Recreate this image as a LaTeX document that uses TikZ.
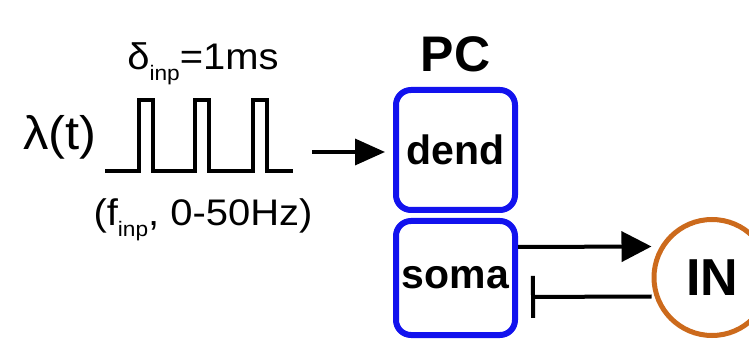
\documentclass[tikz,border=0pt]{standalone}
\usepackage{fontspec}
\setmainfont{Liberation Sans}
\newfontfamily\widesans[FakeStretch=1.08]{Liberation Sans}
\usetikzlibrary{positioning, arrows.meta}
\definecolor{pcblue}{HTML}{1212EE}
\definecolor{inorange}{HTML}{CC6A1C}
\newcommand{\subtxt}[1]{\raisebox{-11pt}{\fontsize{21}{21}\selectfont #1}}

\begin{document}
\begin{tikzpicture}[
    x=1pt, y=-1pt,
    comp/.style={
        draw=pcblue, rounded corners=15pt, line width=6pt,
        minimum width=119pt, font=\bfseries\fontsize{41}{44}\selectfont
    },
    cell/.style={
        draw=inorange, circle, line width=5pt, minimum size=116pt,
        font=\bfseries\fontsize{52}{56}\selectfont
    },
    lbl/.style={
        inner sep=0pt, anchor=base, font=\widesans\fontsize{#1}{#1}\selectfont
    },
    pulse/.style={
        line width=3.5pt, line join=miter
    },
    arr/.style={
        -{Triangle[length=30pt, width=#1]}, line width=4pt
    },
    inh/.style={
        -{Bar[width=42pt, line width=4pt]}, line width=4pt
    }
]
\useasboundingbox (0,0) rectangle (749,344);

% Input: pulse train
\node[lbl=47] (lambda) at (60,150) {λ(t)};
\node[lbl=37] (delta) at (203,70) {δ\subtxt{inp}=1ms};
\node[lbl=37] (freq) at (203,226) {(f\subtxt{inp}, 0-50Hz)};

\draw[pulse] (105,171) -- (139,171) -- (139,100) -- (153,100) -- (153,171)
    -- (195,171) -- (195,100) -- (209,100) -- (209,171)
    -- (253,171) -- (253,100) -- (267,100) -- (267,171) -- (293,171);

% PC: dendrite and soma
\node[comp, minimum height=120pt] (dend) at (455.5,150) {dend};
\node[comp, minimum height=114pt] (soma) at (455.5,278) {soma};
\node[font=\bfseries\fontsize{50}{54}\selectfont, inner sep=0pt, above=15pt of dend] (pc) {PC};

% IN
\node[cell] (in) at (712,277.5) {IN};

% Connections
\coordinate (train) at (312,152);
\draw[arr=26pt, line width=3.5pt, shorten >=8pt] (train) -- (train -| dend.west);
\draw[arr=30pt] ([yshift=31pt]soma.east) -- ([yshift=31pt]in.west);
\draw[inh, shorten >=13pt] ([yshift=-19pt]in.west) -- ([yshift=-19pt]soma.east);

\end{tikzpicture}
\end{document}
